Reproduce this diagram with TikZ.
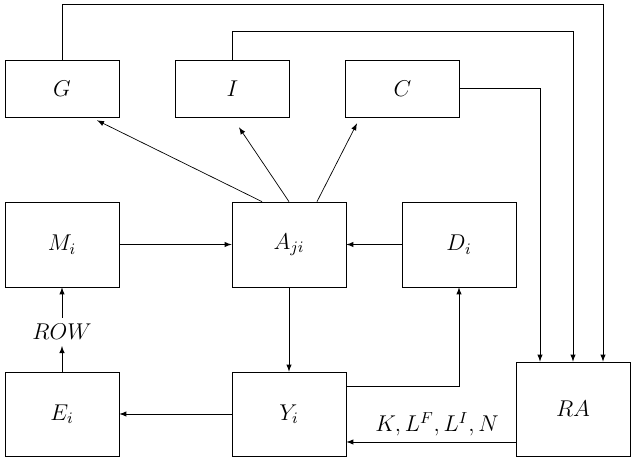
\RequirePackage{fix-cm}
\documentclass[tikz,border=0pt]{standalone}
\begin{document}
\begin{tikzpicture}[>=latex,font=\fontsize{13}{16}\selectfont,
		box/.style={draw,minimum width=2.28cm,minimum height=1.7cm},
		flat/.style={box,minimum height=1.14cm}]
		\useasboundingbox (0,0) rectangle (12.64,9.48);
		% top row
		\node[flat] (G) at (1.24,7.71) {$G$};
		\node[flat] (I) at (4.65,7.71) {$I$};
		\node[flat] (C) at (8.05,7.71) {$C$};
		% middle row
		\node[box] (M) at (1.24,4.59) {$M_i$};
		\node[box] (A) at (5.78,4.59) {$A_{ji}$};
		\node[box] (D) at (9.18,4.59) {$D_i$};
		% bottom row
		\node[box,minimum height=1.68cm] (E) at (1.24,1.2) {$E_i$};
		\node[box,minimum height=1.68cm] (Y) at (5.78,1.2) {$Y_i$};
		\node[box,minimum height=1.88cm] (RA) at (11.46,1.3) {$RA$};
		\node (row) at (1.24,2.84) {$ROW$};
		% feedback lines into RA
		\draw[->] (G.north) -- ++(0,1.1) -| ([xshift=0.6cm]RA.north);
		\draw[->] (I.north) -- ++(0,0.56) -| (RA.north);
		\draw[->] (C.east) -| ([xshift=-0.66cm]RA.north);
		% A feeds the demand side
		\draw[->] ([xshift=-0.54cm]A.north) -- ([xshift=0.7cm,yshift=-0.06cm]G.south);
		\draw[->] (A.north) -- ([xshift=0.13cm,yshift=-0.2cm]I.south);
		\draw[->] ([xshift=0.56cm]A.north) -- ([xshift=-0.91cm,yshift=-0.12cm]C.south);
		\draw[->] (M) -- (A);
		\draw[->] (D) -- (A);
		\draw[->] (A) -- (Y);
		\draw[->] (Y) -- (E);
		\draw[->] (E) -- (row);
		\draw[->] (row) -- (M);
		\draw[->] ([yshift=0.56cm]Y.east) -| (D.south);
		\draw[->] ([yshift=-0.66cm]RA.west) -- node[above,xshift=0.12cm]{$K,L^F,L^I,N$} ([yshift=-0.66cm]RA.west -| Y.east);
	\end{tikzpicture}
\end{document}
